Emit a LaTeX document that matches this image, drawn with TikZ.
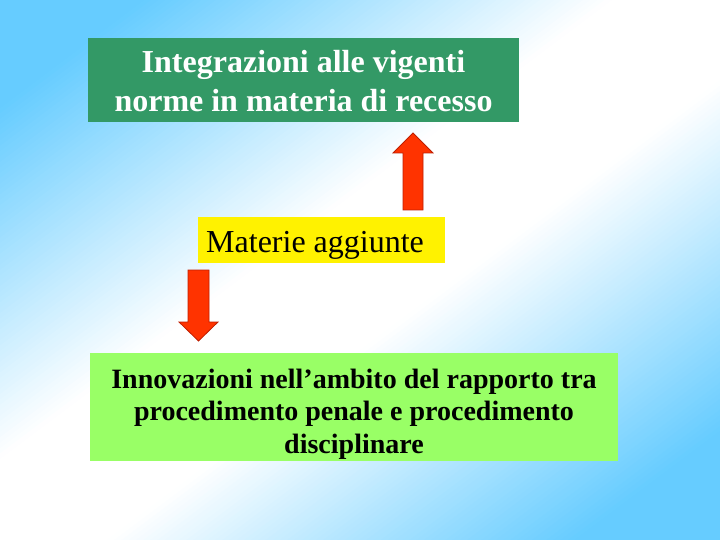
\documentclass[tikz,border=0pt]{standalone}
\usepackage{fontspec}
\setmainfont{Liberation Serif}
\definecolor{bgblue}{RGB}{102,204,255}
\definecolor{topgreen}{RGB}{51,153,102}
\definecolor{botgreen}{RGB}{153,255,102}
\definecolor{arrowred}{RGB}{255,51,0}
\definecolor{arrowedge}{RGB}{190,30,0}
\begin{document}
\begin{tikzpicture}[x=1pt,y=-1pt,
  box/.style={inner sep=0pt, outer sep=0pt, draw=none},
  blockarrow/.style={fill=arrowred, draw=arrowedge, line width=0.8pt, line join=miter}]
\useasboundingbox (0,0) rectangle (720,540);
% diagonal background gradient: blue corners (top left, bottom right), white band along the other diagonal
\begin{scope}
\clip (0,0) rectangle (720,540);
\foreach \i in {0,...,199} {
  \pgfmathsetmacro\bgc{\i*0.01}
  \pgfmathsetmacro\bgm{abs(\bgc+0.005-1)}
  \pgfmathsetmacro\bgp{min(100,max(0,(\bgm-0.15)/0.65*100))}
  \fill[bgblue!\bgp!white] ({(\bgc+2)*720},{-2*540}) -- ({(\bgc-2)*720},{2*540}) -- ({(\bgc+0.014-2)*720},{2*540}) -- ({(\bgc+0.014+2)*720},{-2*540}) -- cycle;
}
\end{scope}

\node[box, fill=topgreen, minimum width=431, minimum height=84, anchor=north west] (integr) at (88,38) {};
\node[anchor=base, align=center, text=white, inner sep=0pt, font=\fontsize{32}{39}\selectfont\bfseries] (integrtext) at (303.5,112) {Integrazioni alle vigenti\\norme in materia di recesso};

\node[box, fill=yellow, minimum width=247, minimum height=46, anchor=north west] (materie) at (198,217) {};
\node[anchor=base west, inner sep=0pt, font=\fontsize{32}{38}\selectfont] (materietext) at (206,252) {Materie aggiunte};

\node[box, fill=botgreen, minimum width=528, minimum height=108, anchor=north west] (innov) at (90,353) {};
\node[anchor=base, align=center, inner sep=0pt, font=\fontsize{28}{32.5}\selectfont\bfseries] (innovtext) at (354,453) {Innovazioni nell’ambito del rapporto tra\\procedimento penale e procedimento\\disciplinare};

\coordinate (upbase) at (413,210);
\draw[blockarrow, shift={(upbase)}] (-10,0) -- (-10,-57) -- (-20,-57) -- (0,-77) -- (20,-57) -- (10,-57) -- (10,0) -- cycle;

\coordinate (downtop) at (198.5,270);
\draw[blockarrow, shift={(downtop)}] (-10.5,0) -- (-10.5,52) -- (-19.5,52) -- (0,71) -- (19.5,52) -- (10.5,52) -- (10.5,0) -- cycle;
\end{tikzpicture}
\end{document}
